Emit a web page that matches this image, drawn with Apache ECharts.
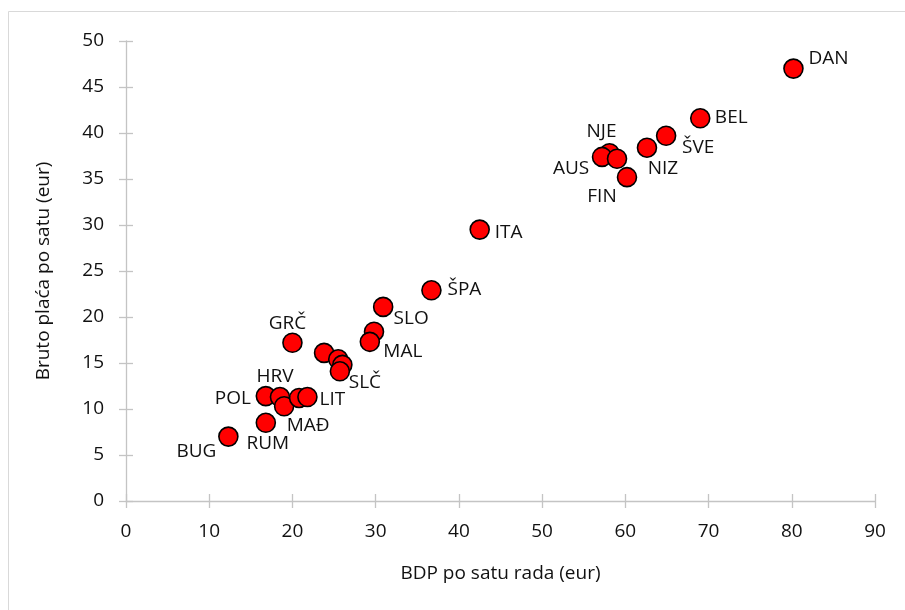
<!DOCTYPE html>
<html>
<head>
    <meta charset="utf-8">
    <title>BDP i bruto plaća po satu</title>
    <script src="https://cdn.jsdelivr.net/npm/echarts@6/dist/echarts.min.js"></script>
</head>
<body style="margin:0;background:#fff;">
    <div id="main" style="width: 905px;height:610px;"></div>
    <script type="text/javascript">
        // country codes (empty = point without label)
        var names = ['DAN', 'BEL', 'ŠVE', 'NIZ', 'NJE', 'AUS', '', 'FIN', 'ITA', 'ŠPA', 'SLO', '', 'MAL', 'GRČ',
                     '', '', '', 'SLČ', 'POL', 'HRV', 'MAĐ', '', 'LIT', 'RUM', 'BUG'];
        // BDP po satu rada (eur)
        var gdpHour = [80.2, 69.0, 64.9, 62.6, 58.1, 57.2, 59.0, 60.2, 42.5, 36.7, 30.9, 29.8, 29.3, 20.0,
                       23.8, 25.5, 26.0, 25.7, 16.8, 18.5, 19.0, 20.8, 21.8, 16.8, 12.3];
        // bruto plaća po satu (eur)
        var wageHour = [47.0, 41.6, 39.7, 38.4, 37.8, 37.4, 37.2, 35.2, 29.5, 22.9, 21.1, 18.4, 17.3, 17.2,
                        16.1, 15.4, 14.8, 14.1, 11.4, 11.3, 10.3, 11.2, 11.3, 8.5, 7.0];

        // where each label sits around its marker (px, from marker centre)
        var labelOffset = {
            'DAN': [35, -10], 'BEL': [31, -1], 'ŠVE': [32, 12], 'NIZ': [16, 21], 'NJE': [-8, -22],
            'AUS': [-31, 12], 'FIN': [-25, 19], 'ITA': [29, 3], 'ŠPA': [33, -1], 'SLO': [28, 12],
            'MAL': [33, 10], 'GRČ': [-5, -19], 'SLČ': [25, 11], 'POL': [-33, 2], 'HRV': [-5, -20],
            'MAĐ': [24, 19], 'LIT': [25, 3], 'RUM': [2, 21], 'BUG': [-32, 15]
        };

        var font = 'Open Sans';
        var points = [];
        for (var i = 0; i < names.length; i++) {
            var p = { name: names[i], value: [gdpHour[i], wageHour[i]] };
            if (names[i]) {
                p.label = { show: true, offset: labelOffset[names[i]] || [25, 0] };
            }
            points.push(p);
        }

        var axisLineStyle = { color: '#c4c4c4', width: 1.3 };

        var myChart = echarts.init(document.getElementById('main'));
        var option = {
            animation: false,
            backgroundColor: '#fff',
            textStyle: { fontFamily: font },
            graphic: [{
                type: 'rect',
                shape: { x: 8.5, y: 11.5, width: 1000, height: 1000 },
                style: { fill: 'none', stroke: '#d9d9d9', lineWidth: 1 }
            }],
            grid: { left: 126, right: 30, top: 41, bottom: 109 },
            xAxis: [{
                type: 'value', min: 0, max: 90, interval: 10,
                name: 'BDP po satu rada (eur)', nameLocation: 'middle', nameGap: 63,
                nameTextStyle: { color: '#111', fontSize: 19, fontFamily: font },
                splitLine: { show: false },
                axisLine: { lineStyle: axisLineStyle },
                axisTick: { show: true, inside: false, length: 7, lineStyle: axisLineStyle },
                axisLabel: { color: '#111', fontSize: 19, margin: 21, fontFamily: font }
            }, {
                type: 'value', min: 0, max: 90, interval: 10, position: 'bottom',
                splitLine: { show: false }, axisLine: { show: false }, axisLabel: { show: false },
                axisTick: { show: true, inside: true, length: 7, lineStyle: axisLineStyle }
            }],
            yAxis: [{
                type: 'value', min: 0, max: 50, interval: 5,
                name: 'Bruto plaća po satu (eur)', nameLocation: 'middle', nameGap: 73,
                nameTextStyle: { color: '#111', fontSize: 19, fontFamily: font },
                splitLine: { show: false },
                axisLine: { show: true, lineStyle: axisLineStyle },
                axisTick: { show: true, inside: false, length: 7, lineStyle: axisLineStyle },
                axisLabel: { color: '#111', fontSize: 19, margin: 22, fontFamily: font }
            }, {
                type: 'value', min: 0, max: 50, interval: 5, position: 'left',
                splitLine: { show: false }, axisLine: { show: false }, axisLabel: { show: false },
                axisTick: { show: true, inside: true, length: 7, lineStyle: axisLineStyle }
            }],
            series: [{
                type: 'scatter',
                symbol: 'circle',
                symbolSize: 19,
                itemStyle: { color: '#ff0000', borderColor: '#000', borderWidth: 1.6, opacity: 1 },
                label: {
                    show: false, position: 'inside', formatter: '{b}',
                    color: '#111', fontSize: 19, fontFamily: font
                },
                data: points
            }]
        };
        myChart.setOption(option);
    </script>
</body>
</html>
